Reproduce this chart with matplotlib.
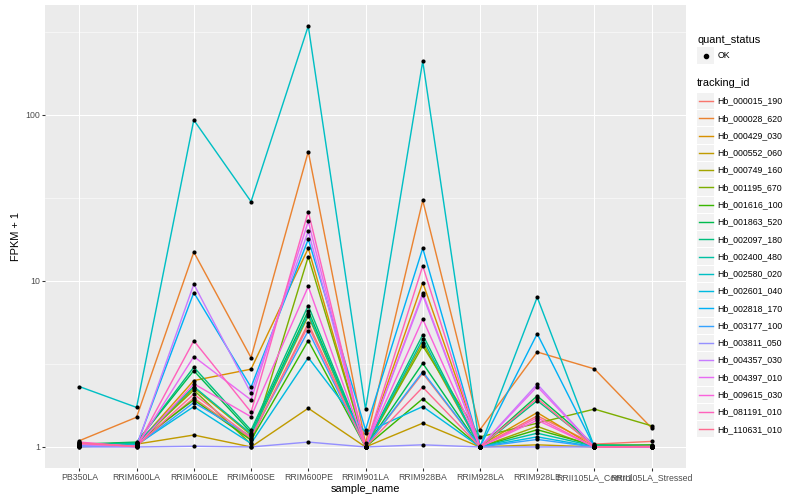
import matplotlib

matplotlib.use("Agg")
import numpy as np
from matplotlib import pyplot as plt
from matplotlib.patches import Rectangle

plt.rcParams["font.family"] = ["Liberation Sans", "DejaVu Sans"]

# samples on the x axis
sample_name = [
    "PB350LA", "RRIM600LA", "RRIM600LE", "RRIM600SE", "RRIM600PE", "RRIM901LA",
    "RRIM928BA", "RRIM928LA", "RRIM928LE", "RRII105LA_Control", "RRII105LA_Stressed",
]

# FPKM + 1, one list per gene, in sample order
hb_000015_190 = [1.05, 1.02, 1.97, 1.12, 5.56, 1.00, 2.78, 1.00, 1.54, 1.04, 1.08]
hb_000028_620 = [1.09, 1.51, 14.9, 3.45, 60.0, 1.05, 30.5, 1.27, 3.73, 2.95, 1.30]
hb_000429_030 = [1.02, 1.03, 2.51, 2.94, 15.7, 1.00, 9.77, 1.02, 1.61, 1.00, 1.02]
hb_000552_060 = [1.00, 1.04, 1.18, 1.00, 1.71, 1.00, 1.39, 1.00, 1.03, 1.00, 1.00]
hb_000749_160 = [1.01, 1.02, 2.27, 1.18, 6.15, 1.00, 4.25, 1.00, 1.33, 1.00, 1.01]
hb_001195_670 = [1.02, 1.05, 2.20, 1.04, 14.0, 1.00, 4.06, 1.15, 1.39, 1.69, 1.34]
hb_001616_100 = [1.03, 1.06, 1.92, 1.10, 4.37, 1.00, 1.95, 1.00, 1.27, 1.02, 1.03]
hb_001863_520 = [1.04, 1.07, 2.88, 1.22, 6.60, 1.00, 3.19, 1.00, 2.03, 1.03, 1.02]
hb_002097_180 = [1.03, 1.06, 3.02, 1.26, 7.10, 1.01, 4.73, 1.00, 1.90, 1.02, 1.01]
hb_002400_480 = [1.02, 1.05, 2.31, 1.20, 6.30, 1.00, 4.45, 1.00, 1.21, 1.01, 1.00]
hb_002580_020 = [2.31, 1.73, 93.0, 30.0, 342.0, 1.69, 210.0, 1.00, 7.97, 1.00, 1.00]
hb_002601_040 = [1.02, 1.03, 1.75, 1.05, 3.45, 1.22, 1.75, 1.00, 1.15, 1.00, 1.00]
hb_002818_170 = [1.01, 1.02, 8.50, 2.29, 17.8, 1.27, 15.7, 1.00, 4.80, 1.00, 1.00]
hb_003177_100 = [1.01, 1.02, 1.85, 1.16, 5.00, 1.00, 2.84, 1.00, 1.11, 1.00, 1.00]
hb_003811_050 = [1.00, 1.00, 1.01, 1.00, 1.07, 1.00, 1.03, 1.00, 1.00, 1.00, 1.00]
hb_004357_030 = [1.03, 1.01, 9.55, 2.11, 19.9, 1.00, 8.20, 1.00, 2.39, 1.00, 1.00]
hb_004397_010 = [1.04, 1.01, 3.50, 1.92, 22.8, 1.00, 8.43, 1.00, 2.31, 1.00, 1.00]
hb_009615_030 = [1.06, 1.01, 2.40, 1.52, 9.25, 1.00, 5.88, 1.00, 1.45, 1.00, 1.00]
hb_081191_010 = [1.07, 1.00, 4.36, 1.62, 26.1, 1.00, 12.3, 1.00, 1.50, 1.00, 1.00]
hb_110631_010 = [1.05, 1.01, 2.08, 1.14, 5.36, 1.00, 2.29, 1.00, 1.96, 1.00, 1.01]

tracking_id = [
    "Hb_000015_190", "Hb_000028_620", "Hb_000429_030", "Hb_000552_060",
    "Hb_000749_160", "Hb_001195_670", "Hb_001616_100", "Hb_001863_520",
    "Hb_002097_180", "Hb_002400_480", "Hb_002580_020", "Hb_002601_040",
    "Hb_002818_170", "Hb_003177_100", "Hb_003811_050", "Hb_004357_030",
    "Hb_004397_010", "Hb_009615_030", "Hb_081191_010", "Hb_110631_010",
]
fpkm = [
    hb_000015_190, hb_000028_620, hb_000429_030, hb_000552_060, hb_000749_160,
    hb_001195_670, hb_001616_100, hb_001863_520, hb_002097_180, hb_002400_480,
    hb_002580_020, hb_002601_040, hb_002818_170, hb_003177_100, hb_003811_050,
    hb_004357_030, hb_004397_010, hb_009615_030, hb_081191_010, hb_110631_010,
]

# ggplot hue palette for 20 groups
hue = [
    "#F8766D", "#EA8331", "#D89000", "#C09B00", "#A3A500", "#7CAE00", "#39B600",
    "#00BB4E", "#00BF7D", "#00C1A3", "#00BFC4", "#00BAE0", "#00B0F6", "#35A2FF",
    "#9590FF", "#C77CFF", "#E76BF3", "#FA62DB", "#FF62BC", "#FF6C91",
]

W, H = 800, 500
PX = 72 / 100  # one ggplot px in points at dpi 100


def px_axes(fig, left, top, right, bottom):
    return fig.add_axes([left / W, 1 - bottom / H, (right - left) / W, (bottom - top) / H])


def style_panel(ax, ymin, ymax):
    ax.set_facecolor("#EBEBEB")
    for s in ax.spines.values():
        s.set_visible(False)
    ax.set_yscale("log")
    ax.set_ylim(ymin, ymax)
    ax.set_xlim(-0.6, len(sample_name) - 0.4)
    ax.set_yticks([1, 10, 100])
    ax.set_yticklabels(["1", "10", "100"])
    ax.set_yticks([10 ** 0.5, 10 ** 1.5, 10 ** 2.5], minor=True)
    ax.yaxis.set_minor_formatter(plt.NullFormatter())
    ax.set_xticks(range(len(sample_name)))
    ax.set_xticklabels(sample_name)
    ax.tick_params(axis="both", which="major", length=2.75 * PX, width=1.07 * PX,
                   color="#333333", labelcolor="#4D4D4D", labelsize=8.8 * PX, pad=2.2 * PX)
    ax.tick_params(axis="y", which="minor", length=0)
    ax.grid(True, which="major", color="white", lw=1.07 * PX)
    ax.grid(True, which="minor", axis="y", color="white", lw=0.53 * PX)
    ax.set_axisbelow(True)
    ax.set_xlabel("sample_name", fontsize=11 * PX, labelpad=2.5 * PX)
    ax.set_ylabel("FPKM + 1", fontsize=11 * PX, labelpad=4 * PX)


def draw_legend(fig):
    lg = fig.add_axes([0, 0, 1, 1])
    lg.set_xlim(0, W)
    lg.set_ylim(H, 0)
    lg.axis("off")
    key = 17.28
    x0 = 697
    lg.text(x0, 40, "quant_status", fontsize=11 * PX, va="center", ha="left")
    lg.add_patch(Rectangle((x0, 56 - key / 2), key, key - 1, fc="#F2F2F2", ec="none"))
    lg.plot([x0 + key / 2], [56], "o", color="black", ms=3.0)
    lg.text(x0 + key + 3, 56, "OK", fontsize=8.8 * PX, va="center", ha="left")
    lg.text(x0, 83, "tracking_id", fontsize=11 * PX, va="center", ha="left")
    for i, (name, c) in enumerate(zip(tracking_id, hue)):
        y = 101 + i * key
        lg.add_patch(Rectangle((x0, y - key / 2 + 0.5), key, key - 1, fc="#F2F2F2", ec="none"))
        lg.plot([x0 + 1.7, x0 + key - 1.7], [y, y], color=c, lw=1.42 * PX)
        lg.text(x0 + key + 3, y, name, fontsize=8.8 * PX, va="center", ha="left")


def main():
    fig = plt.figure(figsize=(W / 100, H / 100), dpi=100)
    ax = px_axes(fig, 45, 5, 686, 468)

    logs = np.log10(np.array(fpkm))
    lo, hi = logs.min(), logs.max()
    pad = 0.05 * (hi - lo)
    style_panel(ax, 10 ** (lo - pad), 10 ** (hi + pad))

    x = np.arange(len(sample_name))
    for vals, c in zip(fpkm, hue):
        ax.plot(x, vals, color=c, lw=1.42 * PX, zorder=2)
    for vals in fpkm:
        ax.plot(x, vals, "o", color="black", ms=3.0, mew=0, zorder=3)

    draw_legend(fig)
    fig.savefig("out.png", dpi=100)


if __name__ == "__main__":
    main()
